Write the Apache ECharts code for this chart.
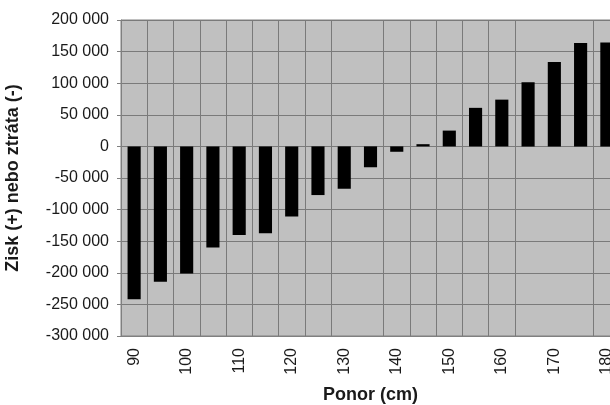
<!DOCTYPE html>
<html style="height: 100%">
<head>
  <meta charset="utf-8">
</head>
<body style="height: 100%; margin: 0; background: #fff">
  <div id="container" style="width: 610px; height: 405px"></div>
  <script type="text/javascript" src="https://cdn.jsdelivr.net/npm/echarts@6/dist/echarts.min.js"></script>
  <script type="text/javascript">
    // depth categories (cm) and profit/loss values
    var ponor = ['90', '95', '100', '105', '110', '115', '120', '125', '130', '135',
                 '140', '145', '150', '155', '160', '165', '170', '175', '180'];
    var zisk = [-242000, -214000, -201000, -160000, -140000, -137500, -111000, -77000, -67000, -33000,
                -8500, 3500, 25000, 61000, 74000, 101500, 133500, 163500, 164500];
    // boundaries without a vertical grid line in the original
    var missingGrid = [9, 16, 17];

    var dom = document.getElementById('container');
    var myChart = echarts.init(dom);
    var font = 'Liberation Sans, Arial, sans-serif';

    function spaced(v) {
      return String(v).replace(/\B(?=(\d{3})+(?!\d))/g, ' ');
    }

    var option = {
      animation: false,
      grid: {
        left: 121,
        top: 20,
        right: -10,
        bottom: 69,
        outerBoundsMode: 'none',
        containLabel: false,
        show: true,
        backgroundColor: '#c0c0c0',
        borderColor: '#808080',
        borderWidth: 1
      },
      xAxis: {
        type: 'category',
        data: ponor,
        name: 'Ponor (cm)',
        nameLocation: 'middle',
        nameGap: 50,
        nameMoveOverlap: false,
        nameTextStyle: { fontFamily: font, fontSize: 18, fontWeight: 'bold', color: '#1a1a1a' },
        axisLine: { onZero: false, lineStyle: { color: '#808080' } },
        axisTick: { show: false },
        axisLabel: {
          interval: 1,
          rotate: 90,
          margin: 12,
          fontFamily: font,
          fontSize: 16,
          color: '#1a1a1a'
        },
        splitLine: {
          show: true,
          interval: function (index) { return missingGrid.indexOf(index) < 0; },
          lineStyle: { color: '#7a7a7a', width: 1 }
        }
      },
      yAxis: {
        type: 'value',
        min: -300000,
        max: 200000,
        interval: 50000,
        name: 'Zisk (+) nebo ztráta (-)',
        nameLocation: 'middle',
        nameGap: 99,
        nameMoveOverlap: false,
        nameTextStyle: { fontFamily: font, fontSize: 18, fontWeight: 'bold', color: '#1a1a1a' },
        axisLine: { show: true, lineStyle: { color: '#808080' } },
        axisTick: { show: true, length: 4, lineStyle: { color: '#808080' } },
        axisLabel: {
          margin: 12,
          fontFamily: font,
          fontSize: 16,
          color: '#1a1a1a',
          formatter: spaced
        },
        splitLine: { show: true, lineStyle: { color: '#7a7a7a', width: 1 } }
      },
      series: [{
        type: 'bar',
        data: zisk,
        barWidth: '50%',
        itemStyle: { color: '#000' }
      }]
    };
    myChart.setOption(option);
  </script>
</body>
</html>
